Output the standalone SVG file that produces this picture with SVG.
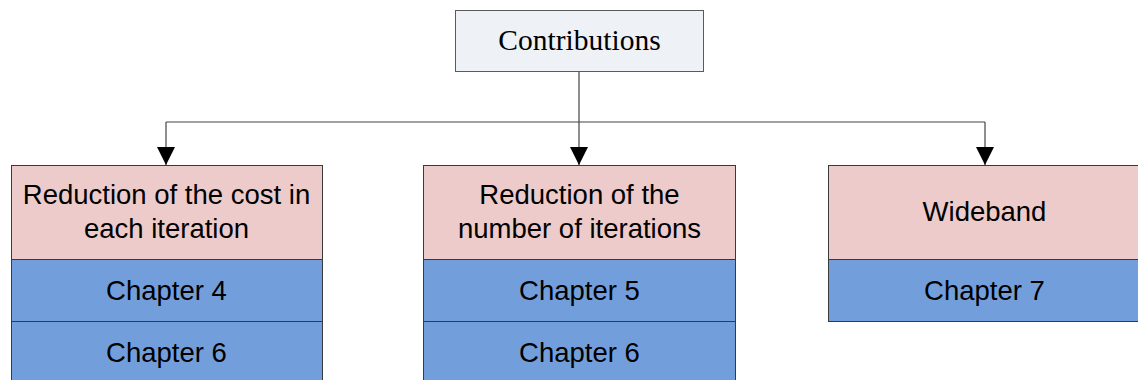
<svg xmlns="http://www.w3.org/2000/svg" width="1138" height="380" viewBox="0 0 1138 380">
<style>
.top{fill:#EEF1F6;stroke:#5a5a5a;stroke-width:1}
.pink{fill:#ECCBCA;stroke:#3a3a3a;stroke-width:1}
.blue{fill:#729FDB;stroke:#3a3a3a;stroke-width:1}
.t{font-family:"Liberation Sans",Arial,sans-serif;font-size:27.5px;fill:#000;text-anchor:middle}
.s{font-family:"Liberation Serif","Times New Roman",serif;font-size:29.5px;fill:#000;text-anchor:middle}
.c{fill:none;stroke:#444;stroke-width:1.2}
</style>
<defs>
<marker id="arr" markerWidth="18" markerHeight="18" viewBox="0 0 18 18" refX="18" refY="9" orient="auto" markerUnits="userSpaceOnUse">
<path d="M0,0 L18,9 L0,18 Z" fill="#000"/>
</marker>
</defs>
<rect width="1138" height="380" fill="#fff"/>
<g id="connectors">
<path class="c" d="M579,71 V122"/>
<path class="c" d="M166,122 H985"/>
<path class="c" d="M166,122 V165" marker-end="url(#arr)"/>
<path class="c" d="M579,122 V165" marker-end="url(#arr)"/>
<path class="c" d="M985,122 V165" marker-end="url(#arr)"/>
</g>
<g id="contributions">
<rect class="top" x="455.5" y="10.5" width="248" height="61"/>
<text class="s" x="579.5" y="50">Contributions</text>
</g>
<g id="node-cost">
<rect class="pink" x="11.5" y="165.5" width="311" height="94"/>
<text class="t" x="166.5" y="204">Reduction of the cost in</text>
<text class="t" x="166.5" y="238">each iteration</text>
<rect class="blue" x="11.5" y="259.5" width="311" height="62"/>
<text class="t" x="166.5" y="300">Chapter 4</text>
<rect class="blue" x="11.5" y="321.5" width="311" height="70"/>
<text class="t" x="166.5" y="362">Chapter 6</text>
</g>
<g id="node-iterations">
<rect class="pink" x="423.5" y="165.5" width="312" height="94"/>
<text class="t" x="579.5" y="204">Reduction of the</text>
<text class="t" x="579.5" y="238">number of iterations</text>
<rect class="blue" x="423.5" y="259.5" width="312" height="62"/>
<text class="t" x="579.5" y="300">Chapter 5</text>
<rect class="blue" x="423.5" y="321.5" width="312" height="70"/>
<text class="t" x="579.5" y="362">Chapter 6</text>
</g>
<g id="node-wideband">
<rect class="pink" x="828.5" y="165.5" width="312" height="94"/>
<text class="t" x="984.5" y="221">Wideband</text>
<rect class="blue" x="828.5" y="259.5" width="312" height="62"/>
<text class="t" x="984.5" y="300">Chapter 7</text>
</g>
</svg>
